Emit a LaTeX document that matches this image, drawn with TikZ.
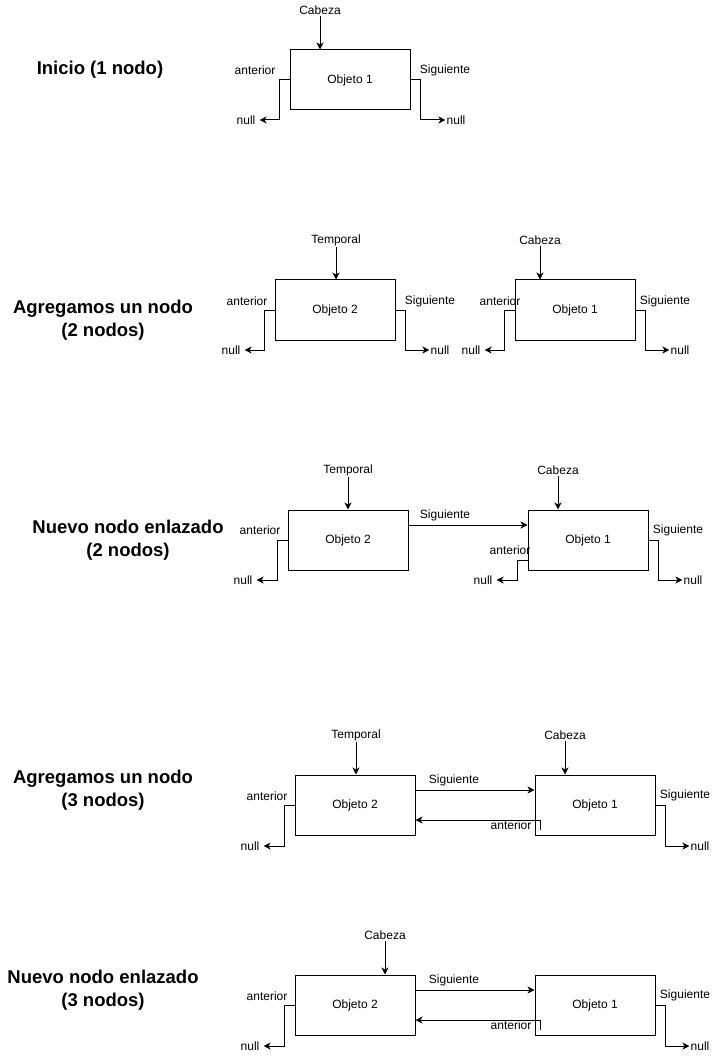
\documentclass[tikz,border=0pt]{standalone}
\usepackage{fontspec}
\setmainfont{Liberation Sans}
\usetikzlibrary{arrows.meta}
\begin{document}
\begin{tikzpicture}[x=1pt,y=-1pt,
  obj/.style={draw,line width=1pt,minimum width=120pt,minimum height=60pt,inner sep=0pt,font=\fontsize{12}{14}\selectfont},
  lbl/.style={inner sep=1pt,font=\fontsize{12}{14}\selectfont},
  nullL/.style={inner xsep=4pt,inner ysep=1pt,font=\fontsize{12}{14}\selectfont},
  nullR/.style={inner xsep=1pt,inner ysep=1pt,font=\fontsize{12}{14}\selectfont},
  title/.style={font=\bfseries\fontsize{18.5}{23}\selectfont,align=center},
  arr/.style={line width=1pt,-{Stealth[length=7pt,width=7pt,inset=2pt]}}]
\fill[white] (0,0) rectangle (721,1056);
\useasboundingbox (0,0) rectangle (721,1056);

% ---------- Section 1
\node[title] (t1) at (100,70) {Inicio (1 nodo)};
\node[obj] (s1o1) at (350,80) {Objeto 1};
\node[lbl] (s1cab) at (320,10) {Cabeza};
\draw[arr] (s1cab) -- (s1cab |- s1o1.north);
\node[lbl] (s1ant) at (255,70) {anterior};
\node[lbl] (s1sig) at (445,70) {Siguiente};
\node[nullL] (s1nl) at (246,120) {null};
\node[nullR] (s1nr) at (456,120) {null};
\draw[arr] (s1o1.west) -- ++(-10,0) |- (s1nl.east);
\draw[arr] (s1o1.east) -- ++(10,0) |- (s1nr.west);

% ---------- Section 2
\node[title] (t2) at (103,320) {Agregamos un nodo\\(2 nodos)};
\node[obj] (s2a) at (335,310) {Objeto 2};
\node[obj] (s2b) at (575,310) {Objeto 1};
\node[lbl] (s2tmp) at (336,240) {Temporal};
\node[lbl] (s2cab) at (540,240) {Cabeza};
\draw[arr] (s2tmp) -- (s2tmp |- s2a.north);
\draw[arr] (s2cab) -- (s2cab |- s2b.north);
\node[lbl] (s2ant1) at (247,301) {anterior};
\node[lbl] (s2sig1) at (430,301) {Siguiente};
\node[lbl] (s2ant2) at (500,301) {anterior};
\node[lbl] (s2sig2) at (665,301) {Siguiente};
\node[nullL] (s2n1) at (231,350) {null};
\node[nullR] (s2n2) at (440,350) {null};
\node[nullL] (s2n3) at (471,350) {null};
\node[nullR] (s2n4) at (680,350) {null};
\draw[arr] (s2a.west) -- ++(-10,0) |- (s2n1.east);
\draw[arr] (s2a.east) -- ++(10,0) |- (s2n2.west);
\draw[arr] (s2b.west) -- ++(-10,0) |- (s2n3.east);
\draw[arr] (s2b.east) -- ++(10,0) |- (s2n4.west);

% ---------- Section 3
\node[title] (t3) at (128,540) {Nuevo nodo enlazado\\(2 nodos)};
\node[obj] (s3a) at (348,540) {Objeto 2};
\node[obj] (s3b) at (588,540) {Objeto 1};
\node[lbl] (s3tmp) at (348,470) {Temporal};
\node[lbl] (s3cab) at (558,470) {Cabeza};
\draw[arr] (s3tmp) -- (s3tmp |- s3a.north);
\draw[arr] (s3cab) -- (s3cab |- s3b.north);
\node[lbl] (s3ant1) at (260,530) {anterior};
\node[lbl] (s3sig1) at (445,515) {Siguiente};
\node[lbl] (s3ant2) at (510,550) {anterior};
\node[lbl] (s3sig2) at (678,530) {Siguiente};
\node[nullL] (s3n1) at (243,580) {null};
\node[nullL] (s3n2) at (483,580) {null};
\node[nullR] (s3n3) at (693,580) {null};
\draw[arr] ([yshift=15pt]s3a.east) -- ([yshift=15pt]s3b.west);
\draw[arr] (s3a.west) -- ++(-10,0) |- (s3n1.east);
\draw[arr] ([yshift=-20pt]s3b.west) -- ++(-10,0) |- (s3n2.east);
\draw[arr] (s3b.east) -- ++(10,0) |- (s3n3.west);

% ---------- Section 4
\node[title] (t4) at (103,790) {Agregamos un nodo\\(3 nodos)};
\node[obj] (s4a) at (355,805) {Objeto 2};
\node[obj] (s4b) at (595,805) {Objeto 1};
\node[lbl] (s4tmp) at (356,735) {Temporal};
\node[lbl] (s4cab) at (565,735) {Cabeza};
\draw[arr] (s4tmp) -- (s4tmp |- s4a.north);
\draw[arr] (s4cab) -- (s4cab |- s4b.north);
\node[lbl] (s4ant1) at (267,796) {anterior};
\node[lbl] (s4sig1) at (454,780) {Siguiente};
\node[lbl] (s4ant2) at (511,825) {anterior};
\node[lbl] (s4sig2) at (685,795) {Siguiente};
\node[nullL] (s4n1) at (250,846) {null};
\node[nullR] (s4n2) at (700,846) {null};
\draw[arr] ([yshift=15pt]s4a.east) -- ([yshift=15pt]s4b.west);
\draw[arr] ([xshift=6pt,yshift=-25pt]s4b.west) |- ([yshift=-15pt]s4a.east);
\draw[arr] (s4a.west) -- ++(-10,0) |- (s4n1.east);
\draw[arr] (s4b.east) -- ++(10,0) |- (s4n2.west);

% ---------- Section 5
\node[title] (t5) at (103,990) {Nuevo nodo enlazado\\(3 nodos)};
\node[obj] (s5a) at (355,1005) {Objeto 2};
\node[obj] (s5b) at (595,1005) {Objeto 1};
\node[lbl] (s5cab) at (385,935) {Cabeza};
\draw[arr] (s5cab) -- (s5cab |- s5a.north);
\node[lbl] (s5ant1) at (267,996) {anterior};
\node[lbl] (s5sig1) at (454,980) {Siguiente};
\node[lbl] (s5ant2) at (511,1025) {anterior};
\node[lbl] (s5sig2) at (685,995) {Siguiente};
\node[nullL] (s5n1) at (250,1046) {null};
\node[nullR] (s5n2) at (700,1046) {null};
\draw[arr] ([yshift=15pt]s5a.east) -- ([yshift=15pt]s5b.west);
\draw[arr] ([xshift=6pt,yshift=-25pt]s5b.west) |- ([yshift=-15pt]s5a.east);
\draw[arr] (s5a.west) -- ++(-10,0) |- (s5n1.east);
\draw[arr] (s5b.east) -- ++(10,0) |- (s5n2.west);
\end{tikzpicture}
\end{document}
